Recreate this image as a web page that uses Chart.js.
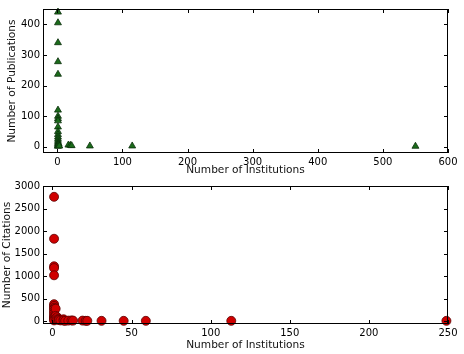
<!DOCTYPE html>
<html lang="en">
<head>
<title>Institutions vs Publications / Citations</title>
<script src="https://cdn.jsdelivr.net/npm/chart.js"></script>
<style>
  html, body { margin: 0; padding: 0; background: #fff; }
  .wrap { position: absolute; left: 0; width: 464px; }
  #top { top: 0; height: 177px; }
  #bottom { top: 177px; height: 177px; }
</style>
</head>
<body>
<div class="wrap" id="top"><canvas id="pubChart" width="464" height="177"></canvas></div>
<div class="wrap" id="bottom"><canvas id="citChart" width="464" height="177"></canvas></div>
<script>
// top panel: institutions vs publications
const pubInst  = [1,1,1,1,1,1,1,1,1,1,1,1,1,1,1,1,1,1,1, 2,2,3, 17,20,22, 50,115,550];
const pubCount = [440,405,340,278,237,120,100,92,85,65,50,40,32,25,18,12,8,4,2, 10,5,3, 6,5,4, 3,3,2];
const pubXTicks = [0,100,200,300,400,500,600];
const pubYTicks = [0,100,200,300,400];

// bottom panel: institutions vs citations
const citInst  = [1,1,1,1,1,1,1,1,1,1,1,1,1,1,1,1,1, 2,2,2, 3,3, 4,4, 5, 7,7, 8, 10, 12, 13, 19, 21, 22, 31, 45, 59, 113, 249];
const citCount = [2760,1830,1220,1180,1020,380,340,300,270,220,180,130,100,80,60,40,20, 280,120,60, 90,40, 50,30, 20, 45,15, 10, 15, 20, 15, 15, 10, 10, 10, 10, 10, 10, 10];
const citXTicks = [0,50,100,150,200,250];
const citYTicks = [0,500,1000,1500,2000,2500,3000];

const font = { family: 'DejaVu Sans', size: 10 };
const titleFont = { family: 'DejaVu Sans', size: 10.6 };

// matplotlib-style frame with inward ticks on all four sides
const frameTicks = {
  id: 'frameTicks',
  afterDatasetsDraw(chart) {
    const { ctx, chartArea: a, scales } = chart;
    ctx.save();
    ctx.strokeStyle = '#000';
    ctx.lineWidth = 1;
    ctx.strokeRect(a.left + 0.5, a.top + 0.5, a.right - a.left - 1, a.bottom - a.top - 1);
    const len = 4;
    ctx.beginPath();
    scales.x.ticks.forEach(t => {
      const px = Math.round(scales.x.getPixelForValue(t.value)) + 0.5;
      ctx.moveTo(px, a.bottom); ctx.lineTo(px, a.bottom - len);
      ctx.moveTo(px, a.top); ctx.lineTo(px, a.top + len);
    });
    scales.y.ticks.forEach(t => {
      const py = Math.round(scales.y.getPixelForValue(t.value)) + 0.5;
      ctx.moveTo(a.left, py); ctx.lineTo(a.left + len, py);
      ctx.moveTo(a.right, py); ctx.lineTo(a.right - len, py);
    });
    ctx.stroke();
    ctx.restore();
  }
};

function makeChart(id, xs, ys, opts) {
  const pts = xs.map((x, i) => ({ x: x, y: ys[i] }));
  return new Chart(document.getElementById(id), {
    type: 'scatter',
    data: {
      datasets: [{
        data: pts,
        pointStyle: opts.style,
        pointRadius: opts.radius,
        backgroundColor: opts.fill,
        borderColor: opts.edge,
        borderWidth: 0.8,
        clip: false
      }]
    },
    options: {
      responsive: false,
      animation: false,
      layout: { padding: { top: opts.padTop, right: 16, left: 0, bottom: 0 } },
      plugins: { legend: { display: false }, tooltip: { enabled: false } },
      scales: {
        x: {
          type: 'linear', min: opts.xMin, max: opts.xMax,
          afterBuildTicks: s => { s.ticks = opts.xTicks.map(v => ({ value: v })); },
          afterFit: s => { s.height = opts.xHeight; },
          grid: { display: false, drawTicks: false },
          border: { display: false },
          ticks: { color: '#000', font: font, padding: 3, maxRotation: 0, callback: v => String(v) },
          title: { display: true, text: 'Number of Institutions', color: '#111', font: titleFont, padding: { top: 0, bottom: opts.xTitlePad } }
        },
        y: {
          type: 'linear', min: opts.yMin, max: opts.yMax,
          afterBuildTicks: s => { s.ticks = opts.yTicks.map(v => ({ value: v })); },
          afterFit: s => { s.width = 43; },
          grid: { display: false, drawTicks: false },
          border: { display: false },
          ticks: { color: '#000', font: font, padding: 3, callback: v => String(v) },
          title: { display: true, text: opts.yTitle, color: '#111', font: titleFont, padding: { top: opts.yTitlePad, bottom: 0 } }
        }
      }
    },
    plugins: [frameTicks]
  });
}

makeChart('pubChart', pubInst, pubCount, {
  style: 'triangle', radius: 4, fill: '#1a6b1a', edge: '#0b2e0b',
  xMin: -22, xMax: 600, yMin: -20, yMax: 450,
  xTicks: pubXTicks, yTicks: pubYTicks,
  padTop: 9, xHeight: 24, yTitle: 'Number of Publications',
  xTitlePad: 0, yTitlePad: 6
});

makeChart('citChart', citInst, citCount, {
  style: 'circle', radius: 4.5, fill: '#d00000', edge: '#5a0000',
  xMin: -6, xMax: 250, yMin: -60, yMax: 3000,
  xTicks: citXTicks, yTicks: citYTicks,
  padTop: 6, xHeight: 30, yTitle: 'Number of Citations',
  xTitlePad: 2, yTitlePad: 1
});
</script>
</body>
</html>
